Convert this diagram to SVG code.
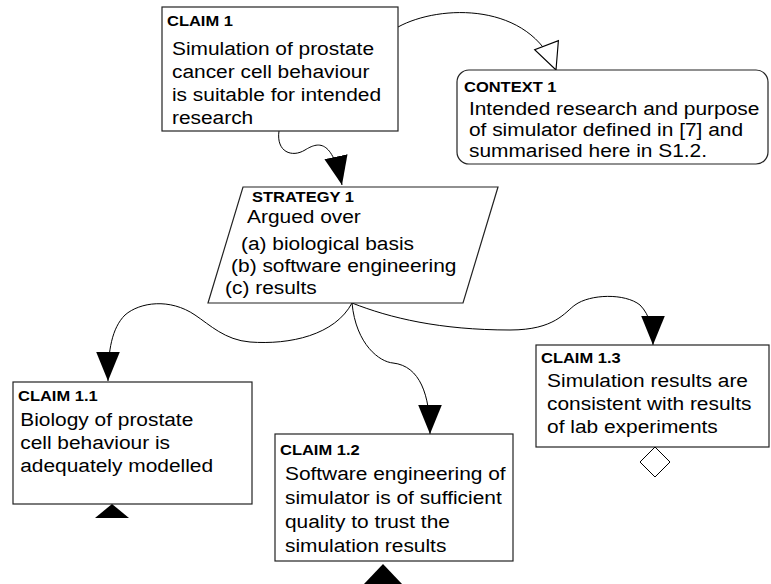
<svg xmlns="http://www.w3.org/2000/svg" width="771" height="584" viewBox="0 0 771 584">
<defs>
<style>
.box{fill:#fff;stroke:#222;stroke-width:1.2}
.con{fill:none;stroke:#000;stroke-width:1}
.hd{font-family:"Liberation Sans",Arial,sans-serif;font-weight:bold;font-size:15px;fill:#000}
.tx{font-family:"Liberation Sans",Arial,sans-serif;font-size:19px;fill:#000}
</style>
<marker id="solid" markerUnits="userSpaceOnUse" markerWidth="30" markerHeight="30" viewBox="0 0 28 22" refX="27" refY="11" orient="auto">
<path d="M0,0 L27,11 L0,22 Z" fill="#000"/>
</marker>
<marker id="open" markerUnits="userSpaceOnUse" markerWidth="30" markerHeight="30" viewBox="-1 -1 26 24" refX="23" refY="11" orient="auto">
<path d="M0,0 L23,11 L0,22 Z" fill="#fff" stroke="#000" stroke-width="1"/>
</marker>
</defs>
<g id="connectors">
<path class="con" d="M398,27 C440,4 530,2 556,70" marker-end="url(#open)"/>
<path class="con" d="M279,131 C276,152 292,158 305,150 C318,142 332,138 342,185" marker-end="url(#solid)"/>
<path class="con" d="M352,303 C335,335 290,345 250,342 C225,340 210,325 195,315 C170,298 140,302 125,315 C112,328 108,350 108,381" marker-end="url(#solid)"/>
<path class="con" d="M352,303 C356,345 380,362 393,363 C420,366 430,395 430,434" marker-end="url(#solid)"/>
<path class="con" d="M352,303 C390,318 440,330 510,330 C555,330 565,312 575,305 C590,294 625,293 640,305 C650,315 653,330 653,345" marker-end="url(#solid)"/>
</g>
<g id="claim1">
<rect class="box" x="162" y="7" width="236" height="124"/>
<g transform="translate(167,0) scale(1.1,1)">
<text class="hd" x="0" y="26">CLAIM 1</text>
<text class="tx" x="4.5" y="55">Simulation of prostate</text>
<text class="tx" x="4.5" y="78">cancer cell behaviour</text>
<text class="tx" x="4.5" y="101">is suitable for intended</text>
<text class="tx" x="4.5" y="124">research</text>
</g>
</g>
<g id="context1">
<rect class="box" x="457" y="70" width="311" height="94" rx="12"/>
<g transform="translate(464,0) scale(1.1,1)">
<text class="hd" x="0" y="92">CONTEXT 1</text>
<text class="tx" x="4.5" y="115">Intended research and purpose</text>
<text class="tx" x="4.5" y="136">of simulator defined in [7] and</text>
<text class="tx" x="4.5" y="157">summarised here in S1.2.</text>
</g>
</g>
<g id="strategy1">
<polygon class="box" points="243,187 498,187 463,303 208,303"/>
<g transform="translate(225,0) scale(1.1,1)">
<text class="hd" x="24.5" y="202">STRATEGY 1</text>
<text class="tx" x="20" y="223">Argued over</text>
<text class="tx" x="14.5" y="250">(a) biological basis</text>
<text class="tx" x="5.5" y="272">(b) software engineering</text>
<text class="tx" x="0" y="294">(c) results</text>
</g>
</g>
<g id="claim1_1">
<rect class="box" x="13" y="382" width="239" height="122"/>
<g transform="translate(18,0) scale(1.1,1)">
<text class="hd" x="0" y="401">CLAIM 1.1</text>
<text class="tx" x="2" y="426">Biology of prostate</text>
<text class="tx" x="2" y="449">cell behaviour is</text>
<text class="tx" x="2" y="472">adequately modelled</text>
</g>
<polygon points="112,504 129,518 95,518" fill="#000"/>
</g>
<g id="claim1_2">
<rect class="box" x="275" y="434" width="238" height="127"/>
<g transform="translate(280,0) scale(1.1,1)">
<text class="hd" x="0" y="455">CLAIM 1.2</text>
<text class="tx" x="4.5" y="480">Software engineering of</text>
<text class="tx" x="4.5" y="504">simulator is of sufficient</text>
<text class="tx" x="4.5" y="528">quality to trust the</text>
<text class="tx" x="4.5" y="552">simulation results</text>
</g>
<polygon points="383,564 402,584 364,584" fill="#000"/>
</g>
<g id="claim1_3">
<rect class="box" x="536" y="345" width="233" height="102"/>
<g transform="translate(541,0) scale(1.1,1)">
<text class="hd" x="0" y="363">CLAIM 1.3</text>
<text class="tx" x="5.5" y="387">Simulation results are</text>
<text class="tx" x="5.5" y="410">consistent with results</text>
<text class="tx" x="5.5" y="433">of lab experiments</text>
</g>
<polygon points="655,447 670,462 655,477 640,462" fill="#fff" stroke="#000" stroke-width="1"/>
</g>
</svg>
